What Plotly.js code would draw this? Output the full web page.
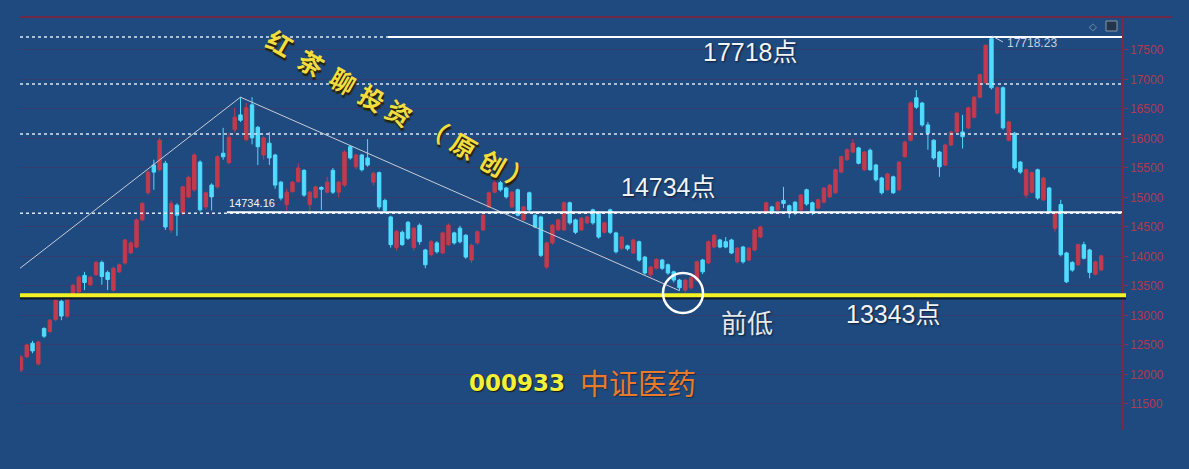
<!DOCTYPE html>
<html>
<head>
<meta charset="utf-8">
<script src="https://cdn.plot.ly/plotly-3.0.1.min.js"></script>
<style>html,body{margin:0;padding:0;background:#1e4a7f;}#chart{width:1189px;height:469px;}</style>
</head>
<body>
<div id="chart"></div>
<script>
// ---- data ----
const openV = [12076,12300,12530,12180,12780,12730,12930,13240,12990,13310,
13400,13680,13520,13690,13900,13730,13430,13740,13890,14060,
14160,14620,15080,15550,15470,15580,14450,14870,14740,15010,
15130,15600,14840,15210,15180,15750,15590,16150,16400,15980,
16570,16190,15720,15920,15720,15260,14880,15100,15270,15460,
14880,15000,15170,15090,15460,15090,15210,15860,15520,15720,
15670,15260,15420,14950,14670,14150,14410,14580,14150,14530,
14110,14030,14230,14060,14200,14400,14480,14360,13940,14230,
14450,14840,15090,15250,15160,14840,15130,14620,15080,14700,
14670,13820,14230,14450,14450,14910,14620,14450,14570,14790,
14740,14410,14790,14400,14140,14180,14060,14250,13990,13690,
13800,13940,13860,13740,13600,13430,13470,13600,13940,13890,
14160,14280,14250,14280,13910,14160,13940,14110,14330,14740,
14840,14790,14950,14860,14920,14790,15130,14910,14820,14920,
15010,15080,15430,15640,15770,15840,15470,15800,15550,15330,
15130,15350,15130,15690,15970,16690,16600,16230,15970,15770,
15550,15890,16110,16110,16180,16360,16700,16940,17690,16430,
16860,15970,16090,15600,15040,15090,15470,14960,15160,14480,
14880,14060,13900,13860,14200,14110,13700,13770];
const highV = [12330,12520,12570,12570,12800,12940,13290,13270,13320,13540,
13680,13740,13670,13920,13930,13760,13830,13880,14300,14260,
14640,14920,15460,15640,16010,15620,14950,14900,15200,15370,
15750,15630,15100,15240,15720,16180,16100,16520,16700,16600,
16700,16210,16040,16110,15740,15280,15150,15280,15580,15480,
15110,15200,15190,15350,15500,15280,15800,15880,15740,15740,
15990,15440,15440,14980,14690,14450,14440,14600,14500,14560,
14130,14280,14260,14420,14560,14420,14520,14380,14220,14440,
14720,15100,15300,15280,15180,15110,15150,14860,15100,14720,
14690,14250,14550,14640,14930,14930,14640,14670,14690,14810,
14760,14590,14810,14420,14350,14200,14300,14270,14010,13840,
13970,13960,13880,13760,13620,13620,13660,13930,13960,14270,
14380,14300,14330,14300,14160,14180,14160,14470,14520,14930,
14860,14940,15180,14880,14940,15060,15150,14930,14980,15180,
15230,15490,15710,15830,15990,15860,15790,15830,15570,15350,
15420,15370,15620,15960,16630,16820,16620,16280,15990,15790,
15910,16130,16450,16400,16540,16720,17100,17600,17718.23,16880,
16880,16300,16110,15620,15490,15440,15490,15350,15180,14760,
14960,14080,13920,14220,14250,14130,13930,14030];
const lowV = [12040,12280,12360,12150,12620,12700,12900,12920,12960,13290,
13380,13430,13500,13670,13520,13430,13400,13720,13860,14040,
14140,14600,15050,15130,15440,14450,14400,14350,14700,14990,
15100,14760,14800,14780,15150,15640,15560,16100,16280,15950,
15900,15550,15640,15550,15150,14950,14780,15080,15250,15010,
14760,14980,14790,15070,15060,15000,15180,15640,15480,15440,
15520,15200,14800,14730,14150,14100,14180,14280,14100,14200,
13800,14000,14050,14040,14180,14200,14220,13960,13890,14200,
14430,14820,15070,15100,14980,14820,14680,14600,14760,14480,
13990,13790,14200,14430,14430,14540,14380,14430,14550,14540,
14300,14390,14380,14050,14110,14100,14040,13910,13690,13660,
13780,13770,13690,13560,13420,13390,13440,13580,13700,13870,
14140,14140,14140,14040,13880,13880,13920,14090,14310,14720,
14720,14770,14820,14650,14700,14770,14860,14700,14800,14900,
14990,15060,15410,15620,15750,15560,15450,15450,15270,15050,
15110,15060,15110,15670,15950,16500,16200,15810,15640,15350,
15530,15870,16090,15830,16160,16340,16680,16920,16830,16410,
16150,15950,15470,15400,14990,15070,14960,14940,14720,14420,
14000,13550,13740,13840,13950,13630,13680,13750];
const closeV = [12296,12500,12400,12550,12650,12920,13260,12990,13300,13510,
13650,13560,13650,13900,13660,13610,13800,13860,14280,14230,
14620,14900,15430,15430,15970,14500,14900,14700,15180,15340,
15720,14790,15080,15010,15690,15690,16020,16360,16310,16520,
16010,15860,16010,15670,15210,14990,15090,15260,15500,15040,
15090,15180,15140,15260,15090,15260,15770,15670,15720,15470,
15550,15410,14840,14780,14200,14420,14200,14310,14480,14250,
13860,14250,14080,14400,14530,14230,14250,13990,14190,14420,
14700,15080,15250,15130,15010,15090,14700,14840,14790,14500,
14020,14230,14530,14620,14910,14570,14410,14650,14670,14570,
14330,14570,14410,14080,14330,14130,14280,13940,13720,13820,
13950,13800,13720,13600,13470,13600,13640,13910,13740,14250,
14360,14160,14160,14060,14140,13910,14140,14450,14500,14910,
14740,14920,14900,14740,14740,15040,14890,14750,14960,15160,
15210,15470,15690,15810,15920,15580,15770,15470,15300,15080,
15400,15080,15600,15940,16600,16530,16230,16090,15670,15520,
15890,16110,16430,16030,16520,16700,17080,17580,16860,16860,
16180,16280,15500,15430,15470,15420,14990,15330,14750,14740,
14030,13570,13770,14200,13970,13730,13910,14010];

// key levels and trend line (values)
const levelHigh = 17718.23;
const levelMid = 14734.16;
const levelLow = 13343;
const fibLevels = [16924, 16076];
const trendX = [-0.17, 38, 114];
const trendY = [13800, 16700, 13420];
const yTicks = [11500,12000,12500,13000,13500,14000,14500,15000,15500,16000,16500,17000,17500];

// ---- helpers for layout positions (pixels -> paper) ----
const PL = 20, PR = 1122, PT = 17, PB = 430;
const px = x => (x - PL) / (PR - PL);
const py = y => (PB - y) / (PB - PT);

const idx = openV.map((_, i) => i);
const RED = '#c23a4e', CYAN = '#4fdcff';

const traces = [
  {
    type: 'candlestick', x: idx, open: openV, high: highV, low: lowV, close: closeV,
    increasing: {line: {color: RED, width: 1}, fillcolor: RED},
    decreasing: {line: {color: CYAN, width: 1}, fillcolor: CYAN},
    whiskerwidth: 0, hoverinfo: 'skip', showlegend: false
  },
  {
    type: 'scatter', mode: 'lines', x: trendX, y: trendY,
    line: {color: '#c9ccd6', width: 1}, hoverinfo: 'skip', showlegend: false
  }
];

const shapes = [
  // top red border line
  {type:'line', xref:'paper', yref:'paper', x0:0, x1:px(1172), y0:1, y1:1, line:{color:'#6e2848', width:2}},
  // dashed guide lines
  {type:'line', xref:'paper', yref:'y', x0:0, x1:px(388), y0:levelHigh, y1:levelHigh, line:{color:'#dfe6f0', width:1.5, dash:'3px,3px'}},
  {type:'line', xref:'paper', yref:'y', x0:0, x1:1, y0:fibLevels[0], y1:fibLevels[0], line:{color:'#dfe6f0', width:1.5, dash:'3px,3px'}},
  {type:'line', xref:'paper', yref:'y', x0:0, x1:1, y0:fibLevels[1], y1:fibLevels[1], line:{color:'#dfe6f0', width:1.5, dash:'3px,3px'}},
  {type:'line', xref:'paper', yref:'y', x0:0, x1:1, y0:levelMid, y1:levelMid, line:{color:'#dfe6f0', width:1.5, dash:'3px,3px'}},
  // solid level lines
  {type:'line', xref:'paper', yref:'y', x0:px(388), x1:1, y0:levelHigh, y1:levelHigh, line:{color:'#ffffff', width:2}},
  {type:'line', xref:'paper', yref:'y', x0:px(227), x1:1, y0:levelMid + 15, y1:levelMid + 15, line:{color:'#ffffff', width:2}},
  // yellow support line with shadow
  {type:'line', xref:'paper', yref:'y', x0:0, x1:px(1126), y0:levelLow - 45, y1:levelLow - 45, line:{color:'#0d1a2a', width:3}},
  {type:'line', xref:'paper', yref:'y', x0:0, x1:px(1126), y0:levelLow, y1:levelLow, line:{color:'#f2f226', width:4}},
  // circle around the previous low
  {type:'circle', xref:'paper', yref:'paper', x0:px(663), x1:px(703), y0:py(313), y1:py(273), line:{color:'#ffffff', width:2.5}},
  // leader line to 17718.23
  {type:'line', xref:'paper', yref:'paper', x0:px(992), x1:px(1003), y0:py(36), y1:py(42), line:{color:'#c8d0e0', width:1}},
  // top-right small icon
  {type:'rect', xref:'paper', yref:'paper', x0:px(1106), x1:px(1117), y0:py(31), y1:py(21), line:{color:'#8a96a8', width:1}, fillcolor:'#24344a'}
];

const white = '#f2f4f8';
const shadow = '1px 1px 2px rgba(0,0,0,0.6)';
function ann(text, x, y, font, extra) {
  return Object.assign({text, xref:'paper', yref:'paper', x:px(x), y:py(y), showarrow:false,
    xanchor:'center', yanchor:'middle', font}, extra || {});
}
const bigFont = {family:'Liberation Sans, Arial, Noto Sans CJK SC', size:25, color:white, shadow};

const annotations = [
  ann('17718点', 750, 52, bigFont),
  ann('14734点', 668, 187, bigFont),
  ann('13343点', 893, 314, bigFont),
  ann('前低', 747, 321, {family:'Noto Sans CJK SC', size:26, color:'#e6e8ec', shadow}),
  ann('14734.16', 227, 203, {family:'Liberation Sans, Arial', size:11, color:white}, {xanchor:'left'}),
  ann('17718.23', 1005, 43, {family:'Liberation Sans, Arial', size:12, color:'#c8d0e0'}, {xanchor:'left'}),
  ann('000933', 517, 383, {family:'DejaVu Sans', size:23, color:'#f4f03a', weight:'bold', shadow:'1px 1px 1px #1a1a00'}),
  ann('中证医药', 638, 382, {family:'Noto Sans CJK SC', size:29, color:'#e97a2c', shadow:'1px 1px 1px rgba(0,0,0,0.4)'}),
  ann('◇', 1093, 26, {family:'DejaVu Sans', size:10, color:'#8a96a8'})
];

// slanted signature, one glyph at a time
const sigChars = ['红','茶','聊','投','资','（','原','创','）'];
const sigPos = [[280,42],[311,62],[343,80],[372,97],[399,112],[436,128],[464,145],[493,162],[520,176]];
sigChars.forEach((c, i) => {
  annotations.push(ann(c, sigPos[i][0], sigPos[i][1],
    {family:'Noto Sans CJK SC', size:25, color:'#f3dd3c', weight:'bold', shadow:'2px 2px 1px #2a2206'},
    {textangle:30}));
});

const layout = {
  width:1189, height:469,
  paper_bgcolor:'#1e4a7f', plot_bgcolor:'#1e4a7f',
  margin:{l:PL, r:1189-PR, t:PT, b:469-PB},
  xaxis:{range:[-0.17, 190.6], visible:false, rangeslider:{visible:false}, fixedrange:true},
  yaxis:{side:'right', range:[11059, 18059], tickvals:yTicks, ticktext:yTicks.map(String),
    showline:true, linecolor:'#7a2a48', linewidth:1.5, ticks:'outside', ticklen:4, tickcolor:'#8e2e48',
    tickfont:{family:'Liberation Sans, Arial', size:12, color:'#b4384f'},
    showgrid:true, gridcolor:'rgba(95,40,75,0.35)', gridwidth:1, zeroline:false, fixedrange:true},
  boxgap:0.3, boxgroupgap:0.15,
  shapes, annotations, showlegend:false
};

Plotly.newPlot('chart', traces, layout, {displayModeBar:false, staticPlot:true});
</script>
</body>
</html>
